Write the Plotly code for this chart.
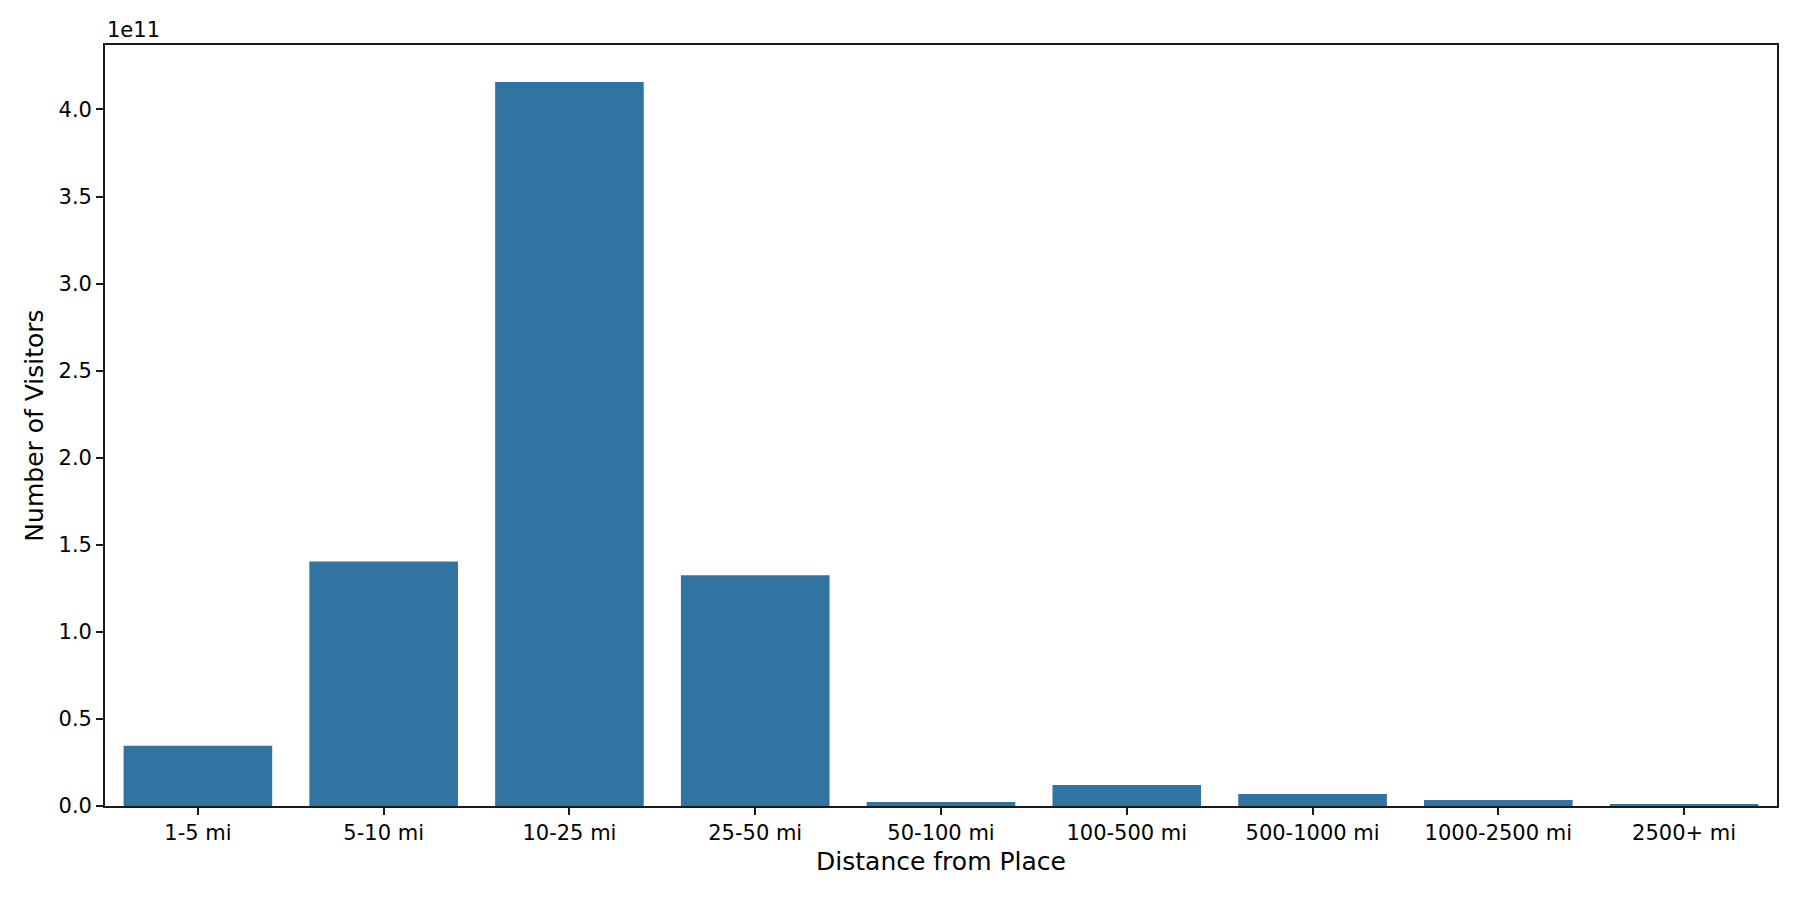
import plotly.graph_objects as go

# distance buckets and visitor counts
distances = ['1-5 mi', '5-10 mi', '10-25 mi', '25-50 mi', '50-100 mi',
             '100-500 mi', '500-1000 mi', '1000-2500 mi', '2500+ mi']
visitors = [3.46e10, 1.404e11, 4.158e11, 1.325e11, 2.3e9,
            1.2e10, 6.9e9, 3.4e9, 7e8]

# y ticks are shown in units of 1e11
y_ticks = [0, 0.5e11, 1.0e11, 1.5e11, 2.0e11, 2.5e11, 3.0e11, 3.5e11, 4.0e11]
y_tick_text = ['0.0', '0.5', '1.0', '1.5', '2.0', '2.5', '3.0', '3.5', '4.0']

fig = go.Figure(data=go.Bar(x=distances, y=visitors, marker_color='#3274a1',
                            marker_line_width=0))

axis_style = dict(showline=True, mirror=True, linecolor='#1a1a1a', linewidth=1.7,
                  ticks='outside', ticklen=7, tickwidth=1.7, tickcolor='#1a1a1a',
                  showgrid=False, zeroline=False,
                  tickfont=dict(family='DejaVu Sans', size=21, color='black'))

# the page body has an 8px margin, so the figure is shrunk to fit the window
fig.update_layout(width=1792, height=892,
                  paper_bgcolor='white', plot_bgcolor='white',
                  margin=dict(l=97, r=23, t=37, b=94),
                  bargap=0.2, showlegend=False,
                  font=dict(family='DejaVu Sans', color='black'))
fig.update_xaxes(**axis_style,
                 title=dict(text='Distance from Place', standoff=8,
                            font=dict(family='DejaVu Sans', size=25, color='black')))
fig.update_yaxes(**axis_style, range=[0, 4.37e11],
                 tickvals=y_ticks, ticktext=y_tick_text,
                 title=dict(text='Number of Visitors', standoff=8,
                            font=dict(family='DejaVu Sans', size=25, color='black')))

# matplotlib-style offset label above the y axis
fig.add_annotation(text='1e11', xref='paper', yref='paper', x=0, y=1,
                   xanchor='left', yanchor='bottom', showarrow=False, yshift=1,
                   font=dict(family='DejaVu Sans', size=21, color='black'))

fig.write_html("out.html")
